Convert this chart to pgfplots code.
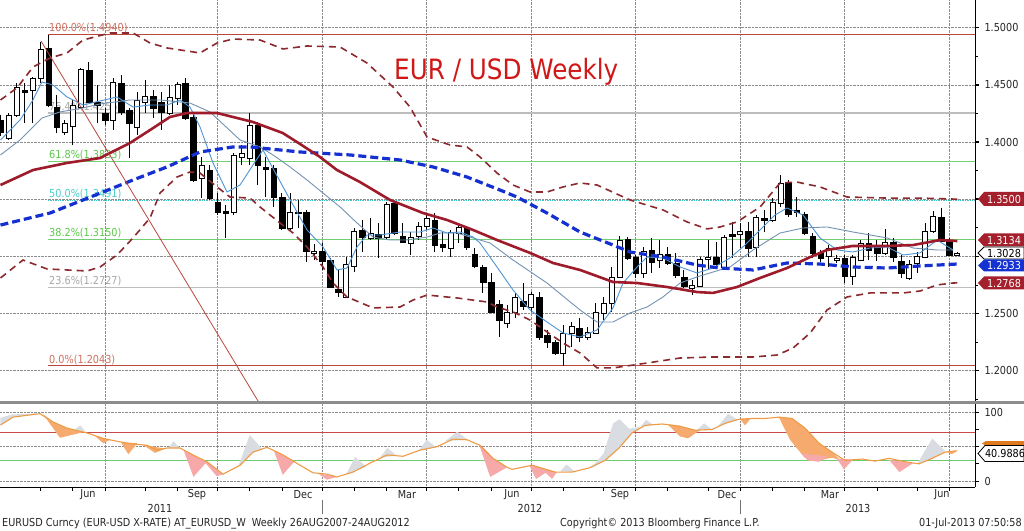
\documentclass[border=0pt]{standalone}
\usepackage{pgfplots}
\pgfplotsset{compat=1.18}
\usepackage{pgfplotstable}
\usepackage{fontspec}
\setmainfont{DejaVu Sans}[FakeStretch=0.88]
\pgfdeclareplotmark{blank}{}
\definecolor{mared}{HTML}{9E1B2B}
\definecolor{mablue}{HTML}{1530D0}
\definecolor{bbred}{HTML}{8B2A2E}
\definecolor{fastblue}{HTML}{4F95D6}
\definecolor{slowblue}{HTML}{7393B3}
\definecolor{fibred}{HTML}{B9473F}
\definecolor{fibredtxt}{HTML}{D0705F}
\definecolor{fibgray}{HTML}{BDBDBD}
\definecolor{fibgraytxt}{HTML}{A8A8A8}
\definecolor{fibgreen}{HTML}{72D072}
\definecolor{fibgreentxt}{HTML}{5CC84A}
\definecolor{fibcyan}{HTML}{3CC8C8}
\definecolor{fibcyantxt}{HTML}{48CFCF}
\definecolor{titlered}{HTML}{D01818}
\definecolor{oscorange}{HTML}{EE9B45}
\definecolor{fillorange}{HTML}{F6AA6E}
\definecolor{fillpink}{HTML}{F7A9A9}
\definecolor{fillgray}{HTML}{D9DDE2}
\definecolor{lvlred}{HTML}{C94A4A}
\definecolor{lvlgreen}{HTML}{6CCB6C}
\definecolor{sepgray}{HTML}{8C8C8C}
\definecolor{tagred}{HTML}{A3202C}
\definecolor{tagblue}{HTML}{1432D2}
\definecolor{tagorange}{HTML}{E07A1E}
\newcommand{\lbl}{\fontsize{11}{13}\selectfont}

\pgfplotstableread{
i o h l c
0 1.4193 1.4237 1.4053 1.4088
1 1.4035 1.4254 1.4018 1.4237
2 1.4237 1.4516 1.4219 1.4481
3 1.4455 1.4516 1.4166 1.4438
4 1.4455 1.4569 1.4166 1.4560
5 1.4560 1.4875 1.4516 1.4814
6 1.4823 1.4940 1.4306 1.4324
7 1.4306 1.4411 1.4079 1.4132
8 1.4088 1.4193 1.4062 1.4166
9 1.4140 1.4368 1.3974 1.4324
10 1.4306 1.4648 1.4298 1.4639
11 1.4630 1.4700 1.4341 1.4350
12 1.4350 1.4499 1.4166 1.4324
13 1.4254 1.4298 1.4149 1.4193
14 1.4193 1.4560 1.4105 1.4525
15 1.4516 1.4586 1.4237 1.4263
16 1.4280 1.4298 1.3860 1.4166
17 1.4132 1.4438 1.4062 1.4368
18 1.4350 1.4543 1.4254 1.4403
19 1.4403 1.4455 1.4210 1.4298
20 1.4350 1.4438 1.4105 1.4263
21 1.4254 1.4499 1.4237 1.4394
22 1.4385 1.4525 1.4324 1.4508
23 1.4516 1.4560 1.4193 1.4210
24 1.4219 1.4237 1.3650 1.3668
25 1.3685 1.3869 1.3510 1.3799
26 1.3755 1.3799 1.3493 1.3510
27 1.3475 1.3554 1.3362 1.3388
28 1.3397 1.3449 1.3161 1.3379
29 1.3388 1.3904 1.3362 1.3887
30 1.3869 1.3974 1.3799 1.3904
31 1.3860 1.4254 1.3799 1.4149
32 1.4149 1.4175 1.3624 1.3799
33 1.3782 1.3869 1.3519 1.3764
34 1.3773 1.3799 1.3432 1.3519
35 1.3519 1.3554 1.3231 1.3248
36 1.3248 1.3554 1.3231 1.3388
37 1.3388 1.3493 1.3248 1.3379
38 1.3388 1.3406 1.2951 1.3047
39 1.3030 1.3107 1.2968 1.3047
40 1.3047 1.3117 1.2881 1.2959
41 1.2968 1.2986 1.2723 1.2732
42 1.2715 1.2881 1.2645 1.2688
43 1.2645 1.2994 1.2636 1.2933
44 1.2916 1.3248 1.2863 1.3222
45 1.3231 1.3318 1.3038 1.3169
46 1.3161 1.3336 1.3143 1.3204
47 1.3196 1.3292 1.2986 1.3161
48 1.3169 1.3475 1.3143 1.3458
49 1.3466 1.3475 1.3187 1.3204
50 1.3178 1.3292 1.3117 1.3126
51 1.3117 1.3213 1.3012 1.3169
52 1.3178 1.3301 1.3143 1.3266
53 1.3266 1.3379 1.3231 1.3336
54 1.3318 1.3379 1.3038 1.3099
55 1.3108 1.3213 1.3038 1.3082
56 1.3073 1.3231 1.2994 1.3213
57 1.3204 1.3274 1.3117 1.3257
58 1.3248 1.3266 1.3056 1.3082
59 1.3021 1.3073 1.2898 1.2916
60 1.2907 1.2924 1.2680 1.2776
61 1.2776 1.2855 1.2505 1.2514
62 1.2583 1.2618 1.2295 1.2443
63 1.2417 1.2575 1.2374 1.2514
64 1.2514 1.2680 1.2461 1.2645
65 1.2610 1.2767 1.2531 1.2566
66 1.2557 1.2688 1.2514 1.2671
67 1.2645 1.2688 1.2268 1.2295
68 1.2312 1.2356 1.2198 1.2251
69 1.2251 1.2268 1.2137 1.2155
70 1.2155 1.2400 1.2043 1.2330
71 1.2330 1.2426 1.2207 1.2391
72 1.2374 1.2461 1.2251 1.2295
73 1.2295 1.2382 1.2268 1.2339
74 1.2330 1.2592 1.2330 1.2514
75 1.2505 1.2645 1.2443 1.2592
76 1.2592 1.2907 1.2514 1.2820
77 1.2820 1.3178 1.2811 1.3143
78 1.3152 1.3169 1.2968 1.2986
79 1.2994 1.3012 1.2811 1.2855
80 1.2855 1.3082 1.2811 1.3047
81 1.3056 1.3161 1.2855 1.2951
82 1.2968 1.3143 1.2898 1.3021
83 1.3021 1.3082 1.2924 1.2942
84 1.2942 1.3030 1.2811 1.2837
85 1.2820 1.2881 1.2723 1.2741
86 1.2723 1.2793 1.2662 1.2750
87 1.2741 1.2994 1.2732 1.2977
88 1.2977 1.3143 1.2881 1.2994
89 1.2994 1.3126 1.2907 1.2933
90 1.2907 1.3187 1.2898 1.3169
91 1.3196 1.3301 1.2986 1.3178
92 1.3196 1.3292 1.3073 1.3222
93 1.3222 1.3301 1.2994 1.3073
94 1.3082 1.3362 1.2994 1.3344
95 1.3336 1.3406 1.3213 1.3318
96 1.3318 1.3510 1.3301 1.3475
97 1.3466 1.3712 1.3432 1.3642
98 1.3650 1.3668 1.3344 1.3371
99 1.3406 1.3519 1.3344 1.3388
100 1.3371 1.3388 1.3187 1.3204
101 1.3178 1.3204 1.2986 1.3030
102 1.3030 1.3056 1.2951 1.2986
103 1.3003 1.3099 1.2907 1.3073
104 1.2968 1.3012 1.2942 1.2986
105 1.2986 1.3012 1.2767 1.2828
106 1.2828 1.3012 1.2750 1.2994
107 1.2968 1.3143 1.2959 1.3117
108 1.3117 1.3204 1.2968 1.3056
109 1.3099 1.3143 1.2959 1.3030
110 1.3030 1.3240 1.3012 1.3126
111 1.3126 1.3161 1.2951 1.2994
112 1.2959 1.3012 1.2811 1.2855
113 1.2811 1.2968 1.2793 1.2933
114 1.2942 1.3038 1.2855 1.3003
115 1.2994 1.3292 1.2986 1.3222
116 1.3222 1.3397 1.3204 1.3353
117 1.3344 1.3423 1.3126 1.3135
118 1.3135 1.3161 1.3003 1.3012
119 1.3012 1.3038 1.3003 1.3028
}\candles

\begin{document}
\begin{tikzpicture}[x=1pt,y=1pt]
\fill[white] (0,0) rectangle (1024,530);

% ---------------- main price panel ----------------
\begin{axis}[
  at={(0pt,129pt)}, anchor=south west,
  scale only axis, width=975pt, height=401pt,
  xmin=-0.062, xmax=121.2, ymin=1.17349, ymax=1.52423,
  axis x line*=bottom, axis y line*=right,
  x axis line style={draw=none},
  y axis line style={black, line width=1pt},
  xtick={13,27,40,53,66,79,92,105,118}, xticklabels={},
  major x tick style={draw=none},
  ytick={1.2,1.25,1.3,1.35,1.4,1.45,1.5},
  yticklabels={1.2000,1.2500,{},{},1.4000,1.4500,1.5000},
  minor ytick={1.175,1.225,1.275,1.325,1.375,1.425,1.475},
  yticklabel style={font=\lbl, text=black!85, xshift=2pt},
  tick align=outside,
  major tick length=4pt, minor tick length=3pt,
  major y tick style={black, line width=1.4pt},
  minor y tick style={black, line width=0.8pt},
  xmajorgrids, ymajorgrids,
  grid style={densely dotted, black!45, line width=0.7pt},
  clip marker paths=true,
]
% Fibonacci levels
\addplot[fibred, line width=0.9pt] coordinates {(5.91,1.4940) (121.2,1.4940)};
\addplot[fibgray, line width=1.8pt] coordinates {(5.91,1.4256) (121.2,1.4256)};
\addplot[fibgreen, line width=1.2pt] coordinates {(5.91,1.3833) (121.2,1.3833)};
\addplot[fibcyan, line width=1.4pt, densely dotted] coordinates {(5.91,1.3491) (121.2,1.3491)};
\addplot[fibgreen, line width=1.2pt] coordinates {(5.91,1.3150) (121.2,1.3150)};
\addplot[fibgray, line width=1.8pt] coordinates {(5.91,1.2727) (121.2,1.2727)};
\addplot[fibred, line width=0.9pt] coordinates {(5.91,1.2043) (121.2,1.2043)};
\node[anchor=south west, inner sep=1pt, text=fibredtxt, font=\lbl] at (axis cs:5.91,1.4940) {100.0\%(1.4940)};
\node[anchor=south west, inner sep=1pt, text=fibgraytxt, font=\lbl] at (axis cs:5.91,1.4256) {76.4\%(1.4256)};
\node[anchor=south west, inner sep=1pt, text=fibgreentxt, font=\lbl] at (axis cs:5.91,1.3833) {61.8\%(1.3833)};
\node[anchor=south west, inner sep=1pt, text=fibcyantxt, font=\lbl] at (axis cs:5.91,1.3491) {50.0\%(1.3491)};
\node[anchor=south west, inner sep=1pt, text=fibgreentxt, font=\lbl] at (axis cs:5.91,1.3150) {38.2\%(1.3150)};
\node[anchor=south west, inner sep=1pt, text=fibgraytxt, font=\lbl] at (axis cs:5.91,1.2727) {23.6\%(1.2727)};
\node[anchor=south west, inner sep=1pt, text=fibredtxt, font=\lbl] at (axis cs:5.91,1.2043) {0.0\%(1.2043)};

% candles
\addplot[scatter, only marks, mark=blank,
  visualization depends on={\thisrow{o}\as\vo},
  visualization depends on={\thisrow{h}\as\vh},
  visualization depends on={\thisrow{l}\as\vl},
  visualization depends on={\thisrow{c}\as\vc},
  scatter/@pre marker code/.code={%
    \pgfmathsetmacro\dO{(\vo-\vc)*1143.3}%
    \pgfmathsetmacro\dH{(\vh-\vc)*1143.3}%
    \pgfmathsetmacro\dL{(\vl-\vc)*1143.3}%
    \draw[black, line width=0.9pt] (0pt,\dL pt) -- (0pt,\dH pt);%
    \ifdim\vo pt>\vc pt
      \fill[black] (-2.8pt,0pt) rectangle (2.8pt,\dO pt);%
    \else
      \filldraw[fill=white, draw=black, line width=0.7pt] (-2.5pt,0pt) rectangle (2.5pt,\dO pt);%
    \fi
  },
  scatter/@post marker code/.code={},
] table[x=i, y=c] {\candles};

% Bollinger bands
\addplot[bbred, line width=1.6pt, dash pattern=on 7pt off 5pt] coordinates {
(0,1.4368) (2.05,1.4473) (4.04,1.4656) (6.16,1.4735) (8.27,1.4779) (10.26,1.4892) (13.62,1.4954) (16.48,1.4954) (18.6,1.4866) (20.71,1.4823) (24.81,1.4779) (26.93,1.4866) (28.92,1.4901) (32.28,1.4892) (35.14,1.4814) (38.12,1.4840) (42.23,1.4831) (45.58,1.4691) (48.82,1.4481) (50.93,1.4306) (53.05,1.4044) (55.91,1.3974) (58.02,1.3957) (59.64,1.3869) (61.75,1.3729) (63.74,1.3624) (65.86,1.3563) (67.97,1.3563) (69.96,1.3607) (72.08,1.3642) (74.19,1.3624) (78.3,1.3493) (82.4,1.3406) (85.39,1.3301) (87.87,1.3240) (89.49,1.3257) (91.6,1.3301) (94.47,1.3432) (96.95,1.3642) (99.07,1.3650) (101.93,1.3607) (105.29,1.3519) (110.27,1.3510) (114.37,1.3510) (119,1.3500)};
\addplot[bbred, line width=1.6pt, dash pattern=on 7pt off 5pt] coordinates {
(0,1.2811) (2.8,1.2968) (5.78,1.2890) (10.76,1.2872) (12.38,1.2907) (14.49,1.3012) (16.48,1.3161) (18.6,1.3336) (19.84,1.3554) (21.95,1.3694) (23.57,1.3738) (24.81,1.3729) (26.93,1.3607) (28.55,1.3519) (31.03,1.3510) (32.28,1.3432) (34.76,1.3292) (36.38,1.3204) (38.12,1.3082) (40.11,1.2907) (41.36,1.2767) (43.1,1.2645) (46.33,1.2549) (49.69,1.2557) (51.31,1.2618) (53.05,1.2662) (56.78,1.2636) (60.51,1.2601) (61.75,1.2557) (63.74,1.2514) (65.86,1.2443) (67.97,1.2339) (69.96,1.2242) (72.08,1.2155) (74.19,1.2024) (76.18,1.2024) (80.41,1.2067) (84.52,1.2111) (88.62,1.2120) (93.6,1.2120) (96.58,1.2137) (98.57,1.2198) (100.7,1.2330) (102.8,1.2531) (105.29,1.2645) (108.15,1.2680) (112.25,1.2680) (114.37,1.2697) (116.48,1.2750) (118.47,1.2767) (119,1.2768)};

% thin moving averages
\addplot[slowblue, line width=0.9pt] coordinates {
(0,1.3887) (2.43,1.4018) (5.16,1.4210) (7.4,1.4263) (10.26,1.4298) (12.38,1.4333) (16.11,1.4368) (19.84,1.4368) (23.57,1.4341) (26.06,1.4263) (29.79,1.4018) (32.28,1.3957) (33.89,1.3887) (36.01,1.3782) (38.12,1.3668) (40.11,1.3554) (42.23,1.3432) (44.34,1.3292) (46.33,1.3169) (48.45,1.3143) (50.56,1.3143) (53.05,1.3169) (54.67,1.3204) (56.78,1.3204) (58.77,1.3161) (60.88,1.3117) (63.74,1.2968) (67.97,1.2767) (72.08,1.2531) (74.19,1.2426) (76.18,1.2426) (78.3,1.2505) (80.41,1.2557) (82.4,1.2645) (84.52,1.2767) (86.63,1.2820) (88.62,1.2863) (90.73,1.2907) (93.6,1.3056) (96.95,1.3204) (99.81,1.3248) (102.8,1.3257) (106.02,1.3213) (110.27,1.3161) (113.5,1.3073) (116.48,1.3056) (118.47,1.3056)};
\addplot[fastblue, line width=0.9pt] coordinates {
(0,1.4018) (2.43,1.4193) (4.04,1.4368) (5.16,1.4525) (6.53,1.4499) (8.27,1.4394) (10.26,1.4324) (12.38,1.4359) (14.49,1.4394) (16.48,1.4306) (18.6,1.4324) (20.71,1.4324) (22.33,1.4368) (23.57,1.4306) (24.81,1.4132) (26.43,1.3817) (28.17,1.3563) (29.79,1.3624) (31.4,1.3799) (32.65,1.3930) (35.14,1.3607) (38.12,1.3231) (40.11,1.3082) (41.85,1.2881) (43.1,1.2898) (44.34,1.3082) (45.58,1.3187) (47.2,1.3187) (49.69,1.3213) (52.18,1.3213) (53.79,1.3248) (55.54,1.3204) (57.15,1.3213) (58.77,1.3169) (59.64,1.3117) (61.75,1.2907) (63.74,1.2706) (65.86,1.2531) (67.97,1.2426) (69.96,1.2330) (72.08,1.2295) (74.19,1.2356) (76.18,1.2549) (77.43,1.2767) (79.17,1.2907) (80.41,1.2994) (82.4,1.2986) (84.52,1.2907) (86.63,1.2855) (88.62,1.2898) (90.73,1.2986) (92.6,1.3099) (94.47,1.3231) (96.33,1.3362) (97.82,1.3423) (99.81,1.3362) (101.93,1.3161) (104.04,1.3056) (106.02,1.3038) (108.15,1.3073) (110.27,1.3082) (112.25,1.3012) (114.37,1.3030) (116.48,1.3143) (118.47,1.3056)};

% long moving averages
\addplot[mablue, line width=3.2pt, dash pattern=on 8pt off 4pt] coordinates {
(0,1.3274) (6.16,1.3379) (10.26,1.3493) (16.48,1.3668) (20.71,1.3782) (24.81,1.3913) (28.92,1.3957) (31.03,1.3957) (37.25,1.3913) (43.47,1.3887) (49.69,1.3843) (53.79,1.3782) (58.02,1.3694) (62.13,1.3580) (64.24,1.3519) (67.97,1.3379) (72.08,1.3213) (76.18,1.3099) (78.3,1.3038) (82.4,1.2994) (86.63,1.2924) (89.49,1.2898) (93.6,1.2881) (97.82,1.2942) (101.93,1.2933) (106.04,1.2907) (110.27,1.2898) (114.37,1.2916) (119.0,1.2933)};
\addplot[mared, line width=2.6pt] coordinates {
(0,1.3624) (4.04,1.3755) (8.27,1.3817) (12.38,1.3860) (16.11,1.3992) (18.6,1.4105) (21.08,1.4219) (23.2,1.4254) (26.93,1.4254) (31.4,1.4175) (35.1,1.4079) (37.25,1.3983) (39.74,1.3869) (41.85,1.3755) (44.71,1.3650) (48.45,1.3493) (52.55,1.3379) (55.54,1.3318) (58.77,1.3231) (61.75,1.3143) (65.86,1.3030) (68.72,1.2942) (72.08,1.2881) (76.18,1.2776) (79.17,1.2767) (82.9,1.2732) (86.63,1.2688) (88.62,1.2680) (91.6,1.2732) (94.47,1.2811) (97.82,1.2898) (100.7,1.2994) (102.8,1.3056) (106.0,1.3091) (110.3,1.3091) (113.5,1.3099) (116.85,1.3143) (119.0,1.3134)};

% trend line
\addplot[fibred, line width=0.8pt] coordinates {(5.04,1.4884) (32.2,1.1715)};
\end{axis}

% ---------------- oscillator panel ----------------
\begin{axis}[
  at={(0pt,43pt)}, anchor=south west,
  scale only axis, width=975pt, height=83pt,
  xmin=-0.062, xmax=121.2, ymin=-8.7, ymax=112.1,
  axis x line*=bottom, axis y line*=right,
  axis line style={black, line width=1pt},
  xtick={13,27,40,53,66,79,92,105,118}, xticklabels={},
  minor xtick={5,9,18,22,31,35,44,48,57,61,70,75,83,88,96,100,109,114},
  ytick={0,50,100}, yticklabels={0,{},100},
  minor ytick={25,75},
  yticklabel style={font=\lbl, text=black!85, xshift=2pt},
  tick align=outside,
  major tick length=4pt, minor tick length=4pt,
  every tick/.style={black, line width=0.8pt},
  xmajorgrids, ymajorgrids,
  grid style={densely dotted, black!45, line width=0.7pt},
]
\addplot[lvlred, line width=1pt] coordinates {(-0.062,70) (121.2,70)};
\addplot[lvlgreen, line width=1.2pt] coordinates {(-0.062,30) (121.2,30)};
% gray areas (raw above smoothed)
\addplot[fill=fillgray, draw=none] coordinates {(0,81.5) (0,92) (1.5,97) (3.2,97.5) (4.9,99) (1.55,93)};
\addplot[fill=fillgray, draw=none] coordinates {(9.2,74.5) (9.9,81) (10.6,71.5)};
\addplot[fill=fillgray, draw=none] coordinates {(20.9,48) (21.5,58) (22.3,48)};
\addplot[fill=fillgray, draw=none] coordinates {(29.6,22) (31,67) (32.6,46) (31.4,42)};
\addplot[fill=fillgray, draw=none] coordinates {(43,10) (44.1,35) (45.5,21)};
\addplot[fill=fillgray, draw=none] coordinates {(47.2,34) (48.1,48) (49.3,37)};
\addplot[fill=fillgray, draw=none] coordinates {(52,44) (53,60) (54.2,49)};
\addplot[fill=fillgray, draw=none] coordinates {(55.3,58) (56.8,72) (58.1,60)};
\addplot[fill=fillgray, draw=none] coordinates {(69.6,14) (70.4,24) (71.5,13)};
\addplot[fill=fillgray, draw=none] coordinates {(73.4,18) (75,40) (76.2,84) (77,90) (78.2,76) (79.6,79) (78.54,70) (76.93,48) (75.19,30)};
\addplot[fill=fillgray, draw=none] coordinates {(79.6,79) (80.3,89) (81.2,81.5)};
\addplot[fill=fillgray, draw=none] coordinates {(86.6,74) (87.5,84) (88.5,75)};
\addplot[fill=fillgray, draw=none] coordinates {(89.2,79) (90.5,98) (91.7,89)};
\addplot[fill=fillgray, draw=none] coordinates {(114,25) (115.9,62) (117.5,43) (115.86,33)};
% orange areas
\addplot[fill=fillorange, draw=none] coordinates {(5.3,97) (7.4,63) (10.3,71) (8.27,77) (6.53,86)};
\addplot[fill=fillorange, draw=none] coordinates {(11.8,65) (12.8,55) (13.6,60)};
\addplot[fill=fillorange, draw=none] coordinates {(15,56) (15.9,39) (17,55)};
\addplot[fill=fillorange, draw=none] coordinates {(17.7,53) (19.2,41) (20.5,47)};
\addplot[fill=fillorange, draw=none] coordinates {(83,82) (84.5,65) (85.5,62) (87,74) (86.38,74) (84.39,80)};
\addplot[fill=fillorange, draw=none] coordinates {(92,90) (92.6,81) (93.3,91)};
\addplot[fill=fillorange, draw=none] coordinates {(96.8,93) (98.2,60) (100,34) (101.8,30) (103.4,34) (104.5,30) (103.42,42) (101.8,55) (100.06,77) (98.45,91)};
\addplot[fill=fillorange, draw=none] coordinates {(117.6,43) (118.3,39) (119,44)};
% pink areas
\addplot[fill=fillpink, draw=none] coordinates {(22.8,44) (24,6) (25.5,26) (26.9,7) (27.7,10) (25.68,28) (23.94,38)};
\addplot[fill=fillpink, draw=none] coordinates {(34,44) (35.1,9) (36.6,29)};
\addplot[fill=fillpink, draw=none] coordinates {(39.5,11) (40.6,2) (41.9,6)};
\addplot[fill=fillpink, draw=none] coordinates {(59.5,54) (60.9,6) (63,20) (61.26,33)};
\addplot[fill=fillpink, draw=none] coordinates {(65.8,22) (66.6,3) (67.8,12) (68.6,3) (69.2,13) (66.11,23)};
\addplot[fill=fillpink, draw=none] coordinates {(99.6,40) (100.4,30) (101.8,28) (102.9,36)};
\addplot[fill=fillpink, draw=none] coordinates {(104,33) (104.9,17) (106,31)};
\addplot[fill=fillpink, draw=none] coordinates {(110.5,31) (111.8,13) (113.5,26)};
% smoothed oscillator
\addplot[oscorange, line width=1.1pt] coordinates {
(0,81.5) (1.55,93) (4.91,98) (6.53,86) (8.27,77) (10.76,70) (12.75,62) (14.86,57) (16.48,54) (18.22,52) (19.47,45) (20.71,48) (22.33,48) (23.94,38) (25.68,28) (27.67,10) (29.79,23) (31.4,42) (33.15,49) (35.14,38) (37.25,23) (38.87,12) (40.61,10) (41.85,6) (43.84,13) (45.96,26) (48.07,38) (50.06,36) (52.18,45) (54.29,50) (56.28,61) (58.02,60) (59.64,52) (61.26,33) (63.0,20) (63.62,17) (66.11,23) (68.97,13) (71.08,13) (73.2,19) (75.19,30) (76.93,48) (78.54,70) (80.16,81) (82.28,83) (84.39,80) (86.38,74) (88.5,75) (90.11,84) (91.85,90) (93.47,91) (95.09,91) (96.83,93) (98.45,91) (100.06,77) (101.8,55) (103.42,42) (105.04,30) (107.15,32) (108.77,29) (110.51,33) (112.5,28) (114.24,25) (115.86,33) (117.48,42) (118.97,44)};
\end{axis}

% separator
\fill[sepgray] (0,126) rectangle (1024,129.5);

% title
\node[anchor=base west, text=titlered, font=\fontsize{28}{30}\selectfont, inner sep=0pt] at (394,450) {EUR / USD Weekly};

% right-hand value tags
\fill[tagred] (978,331) -- (984,338) -- (1024,338) -- (1024,324) -- (984,324) -- cycle;
\node[text=white, font=\lbl, inner sep=0pt] at (1004,331) {1.3500};
\fill[tagred] (978,290) -- (984,296.5) -- (1024,296.5) -- (1024,283.5) -- (984,283.5) -- cycle;
\node[text=white, font=\lbl, inner sep=0pt] at (1004,290) {1.3134};
\filldraw[fill=white, draw=black, line width=0.8pt] (978,277) -- (984,283) -- (1024,283) -- (1024,271) -- (984,271) -- cycle;
\node[text=black, font=\lbl, inner sep=0pt] at (1004,277) {1.3028};
\fill[tagblue] (978,264.5) -- (984,270.5) -- (1024,270.5) -- (1024,258.5) -- (984,258.5) -- cycle;
\node[text=white, font=\lbl, inner sep=0pt] at (1004,264.5) {1.2933};
\fill[tagred] (978,247) -- (984,253.5) -- (1024,253.5) -- (1024,240.5) -- (984,240.5) -- cycle;
\node[text=white, font=\lbl, inner sep=0pt] at (1004,247) {1.2768};

% oscillator tags
\fill[tagorange] (982,86.5) -- (986,89) -- (1024,89) -- (1024,84) -- (986,84) -- cycle;
\filldraw[fill=white, draw=black, line width=0.8pt] (978,76.5) -- (985,84.5) -- (1024,84.5) -- (1024,68.5) -- (985,68.5) -- cycle;
\node[text=black, font=\lbl, inner sep=0pt] at (1005,76.5) {40.9886};

% month labels
\foreach \xx/\mm in {88/Jun,197/Sep,303/Dec,407/Mar,512/Jun,620/Sep,727/Dec,830/Mar,942/Jun}
  \node[font=\lbl, text=black!85] at (\xx,35) {\mm};
% year labels and separators
\node[font=\lbl, text=black!85] at (160,22) {2011};
\node[font=\lbl, text=black!85] at (530,22) {2012};
\node[font=\lbl, text=black!85] at (858,22) {2013};
\draw[black!55, line width=0.9pt] (322,30) -- (322,16);
\draw[black!55, line width=0.9pt] (740,30) -- (740,16);

% footer
\node[anchor=base west, font=\lbl, text=black!85, inner sep=0pt] at (2,4) {EURUSD Curncy (EUR-USD X-RATE) AT\_EURUSD\_W\ \ Weekly 26AUG2007-24AUG2012};
\node[anchor=base west, font=\lbl, text=black!85, inner sep=0pt] at (560,4) {Copyright© 2013 Bloomberg Finance L.P.};
\node[anchor=base east, font=\lbl, text=black!85, inner sep=0pt] at (1022,4) {01-Jul-2013 07:50:58};

\pgfresetboundingbox
\useasboundingbox (0,0) rectangle (1024,530);
\end{tikzpicture}
\end{document}
